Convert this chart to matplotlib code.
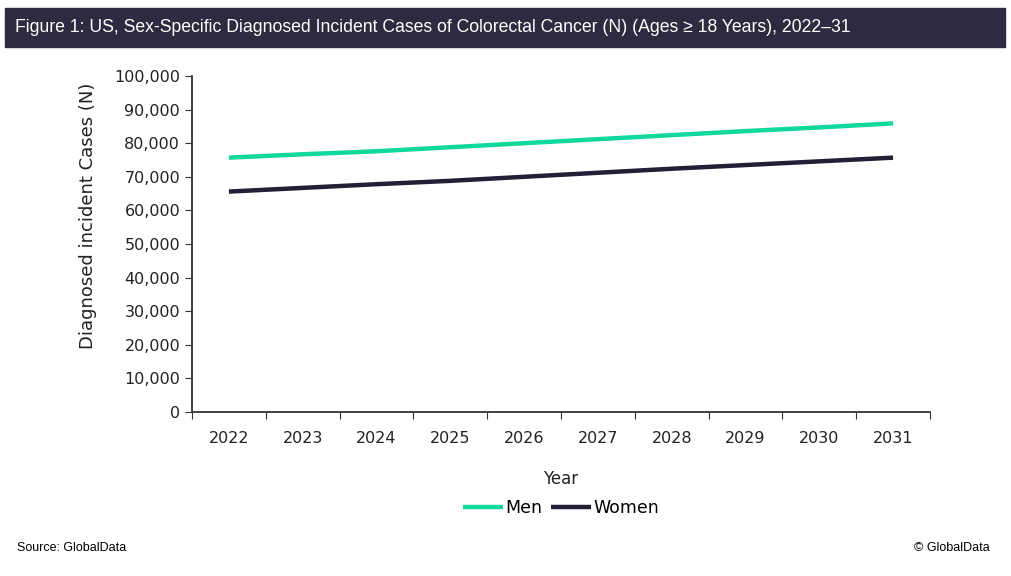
import matplotlib.pyplot as plt
from matplotlib.patches import Rectangle
from matplotlib.ticker import FuncFormatter, FixedLocator

years = ["2022", "2023", "2024", "2025", "2026", "2027", "2028", "2029", "2030", "2031"]
men = [75700, 76700, 77600, 78800, 80000, 81200, 82400, 83600, 84700, 85900]
women = [65600, 66700, 67800, 68800, 70000, 71200, 72400, 73500, 74600, 75700]

title = "Figure 1: US, Sex-Specific Diagnosed Incident Cases of Colorectal Cancer (N) (Ages \u2265 18 Years), 2022\u201331"
narrow = ["Liberation Sans", "DejaVu Sans"]

fig = plt.figure(figsize=(10.12, 5.76), dpi=100)

# title bar
fig.patches.append(Rectangle((5 / 1012, 1 - 47 / 576), 1000 / 1012, 39 / 576,
                             transform=fig.transFigure, color="#2e2a3f", zorder=0))
fig.text(15 / 1012, 1 - 28 / 576, title, color="white", fontsize=12.7,
         family=narrow, va="center", ha="left")

ax = fig.add_axes([192 / 1012, 1 - 412 / 576, 738 / 1012, 336 / 576])
x = list(range(len(years)))
ax.plot(x, men, color="#10d99b", lw=3.2, label="Men", solid_capstyle="butt")
ax.plot(x, women, color="#231f35", lw=3.2, label="Women", solid_capstyle="butt")

ax.set_xlim(-0.5, len(years) - 0.5)
ax.set_ylim(0, 100000)
ax.set_yticks(range(0, 100001, 10000))
ax.yaxis.set_major_formatter(FuncFormatter(lambda v, p: f"{int(v):,}"))
ax.xaxis.set_major_locator(FixedLocator([i - 0.5 for i in range(len(years) + 1)]))
ax.set_xticklabels([])
ax.set_xticks(x, minor=True)
ax.set_xticklabels(years, minor=True)
ax.tick_params(axis="x", which="minor", length=0, pad=14, labelsize=11.5, labelcolor="#222222")
ax.tick_params(axis="x", which="major", length=5, direction="out", color="#333333")
ax.tick_params(axis="y", length=5, direction="out", labelsize=11.5, labelcolor="#222222", color="#333333")

for s in ["top", "right"]:
    ax.spines[s].set_visible(False)
for s in ["left", "bottom"]:
    ax.spines[s].set_color("#333333")
    ax.spines[s].set_linewidth(1.3)

ax.set_xlabel("Year", fontsize=12, color="#222222", labelpad=17)
ax.set_ylabel("Diagnosed incident Cases (N)", fontsize=13, color="#222222")
ax.yaxis.set_label_coords(-0.129, 0.583)

ax.legend(loc="center", bbox_to_anchor=(0.5, -0.285), ncol=2, frameon=False,
          fontsize=12.5, handlelength=2.3, handletextpad=0.15, columnspacing=0.5)

fig.text(17 / 1012, 1 - 548 / 576, "Source: GlobalData", fontsize=9, family=narrow, va="center")
fig.text(990 / 1012, 1 - 548 / 576, "\u00a9 GlobalData", fontsize=9, family=narrow,
         va="center", ha="right")

fig.savefig("out.png", dpi=100)
